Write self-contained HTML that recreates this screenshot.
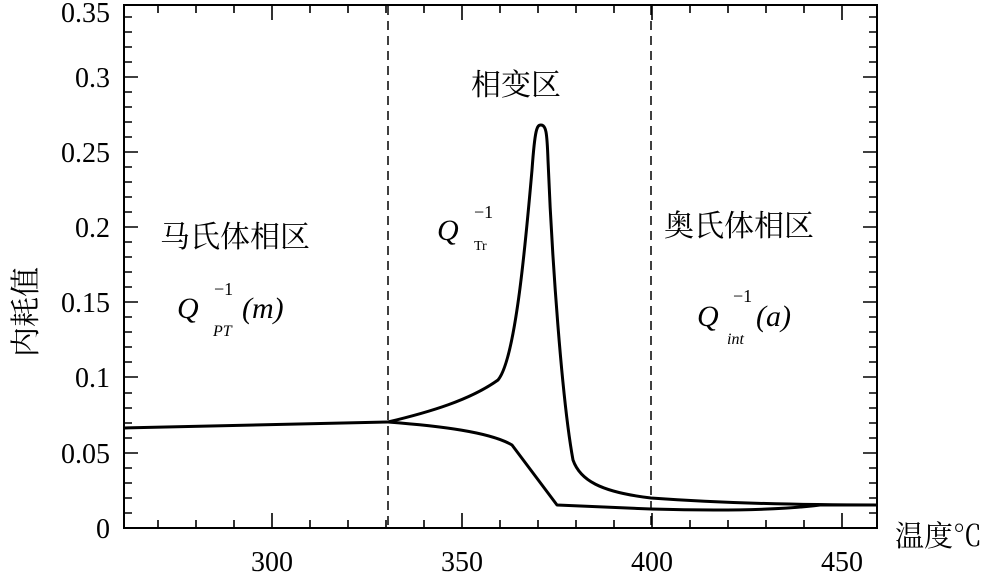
<!DOCTYPE html>
<html><head><meta charset="utf-8"><style>
body{margin:0;background:#fff;}
svg text{font-family:"Liberation Serif","Noto Serif CJK SC",serif;fill:#000;}
</style></head><body>
<svg width="984" height="574" viewBox="0 0 984 574" xmlns="http://www.w3.org/2000/svg">
<rect x="124" y="5" width="753" height="523" fill="none" stroke="#000" stroke-width="2"/>
<g stroke="#000" stroke-width="1.6">
<path d="M124 528h14M124 453h14M124 377h14M124 302h14M124 227h14M124 152h14M124 77h14
M124 513h8M124 498h8M124 483h8M124 468h8M124 438h8M124 423h8M124 408h8M124 393h8M124 362h8M124 347h8M124 332h8M124 317h8M124 287h8M124 272h8M124 257h8M124 242h8M124 212h8M124 197h8M124 182h8M124 167h8M124 137h8M124 122h8M124 107h8M124 92h8M124 62h8M124 47h8M124 32h8M124 17h8"/>
<path d="M877 528h-14M877 453h-14M877 377h-14M877 302h-14M877 227h-14M877 152h-14M877 77h-14
M877 513h-8M877 498h-8M877 483h-8M877 468h-8M877 438h-8M877 423h-8M877 408h-8M877 393h-8M877 362h-8M877 347h-8M877 332h-8M877 317h-8M877 287h-8M877 272h-8M877 257h-8M877 242h-8M877 212h-8M877 197h-8M877 182h-8M877 167h-8M877 137h-8M877 122h-8M877 107h-8M877 92h-8M877 62h-8M877 47h-8M877 32h-8M877 17h-8"/>
<path d="M272 528v-15M462 528v-15M652 528v-15M842 528v-15
M158 528v-8M196 528v-8M234 528v-8M310 528v-8M348 528v-8M386 528v-8M424 528v-8M500 528v-8M538 528v-8M576 528v-8M614 528v-8M690 528v-8M728 528v-8M766 528v-8M804 528v-8"/>
<path d="M272 5v15M462 5v15M652 5v15M842 5v15
M158 5v8M196 5v8M234 5v8M310 5v8M348 5v8M386 5v8M424 5v8M500 5v8M538 5v8M576 5v8M614 5v8M690 5v8M728 5v8M766 5v8M804 5v8"/>
</g>
<g stroke="#000" stroke-width="1.5" stroke-dasharray="9,6">
<line x1="388" y1="6" x2="388" y2="528"/>
<line x1="651" y1="6" x2="651" y2="528"/>
</g>
<g fill="none" stroke="#000" stroke-width="3" stroke-linejoin="round">
<path d="M124 428 L388 422"/>
<path d="M388 422 C430 412 470 400 498 380 C515 360 525 250 532 170 C535 128 537 125 541 125 C546 125 547 132 548 160 C552 260 562 400 573 460 C580 480 600 492 651 498 C720 503 800 505 877 505"/>
<path d="M388 422 C440 426 490 432 512 445 L557 505 L651 509 C720 511 780 510 820 505 L877 505"/>
</g>
<g font-size="28" text-anchor="end">
<text x="110" y="538">0</text>
<text x="110" y="463">0.05</text>
<text x="110" y="387">0.1</text>
<text x="110" y="312">0.15</text>
<text x="110" y="237">0.2</text>
<text x="110" y="162">0.25</text>
<text x="110" y="87">0.3</text>
<text x="110" y="22">0.35</text>
</g>
<g font-size="28" text-anchor="middle">
<text x="272" y="571">300</text>
<text x="462" y="571">350</text>
<text x="652" y="571">400</text>
<text x="842" y="571">450</text>
</g>
<text x="895" y="546" font-size="29">温度℃</text>
<text transform="translate(36,312) rotate(-90)" font-size="30" text-anchor="middle">内耗值</text>
<text x="160" y="247" font-size="30">马氏体相区</text>
<text x="471" y="95" font-size="30">相变区</text>
<text x="664" y="236" font-size="30">奥氏体相区</text>
<g font-style="italic">
<text x="177" y="318" font-size="30">Q</text>
<text x="214" y="295" font-size="18" font-style="normal">−1</text>
<text x="242" y="318" font-size="30">(m)</text>
<text x="213" y="336" font-size="16">PT</text>
<text x="437" y="240" font-size="30">Q</text>
<text x="474" y="218" font-size="18" font-style="normal">−1</text>
<text x="474" y="250" font-size="14" font-style="normal">Tr</text>
<text x="697" y="326" font-size="30">Q</text>
<text x="733" y="302" font-size="18" font-style="normal">−1</text>
<text x="756" y="326" font-size="30">(a)</text>
<text x="727" y="344" font-size="16">int</text>
</g>
</svg>
</body></html>
